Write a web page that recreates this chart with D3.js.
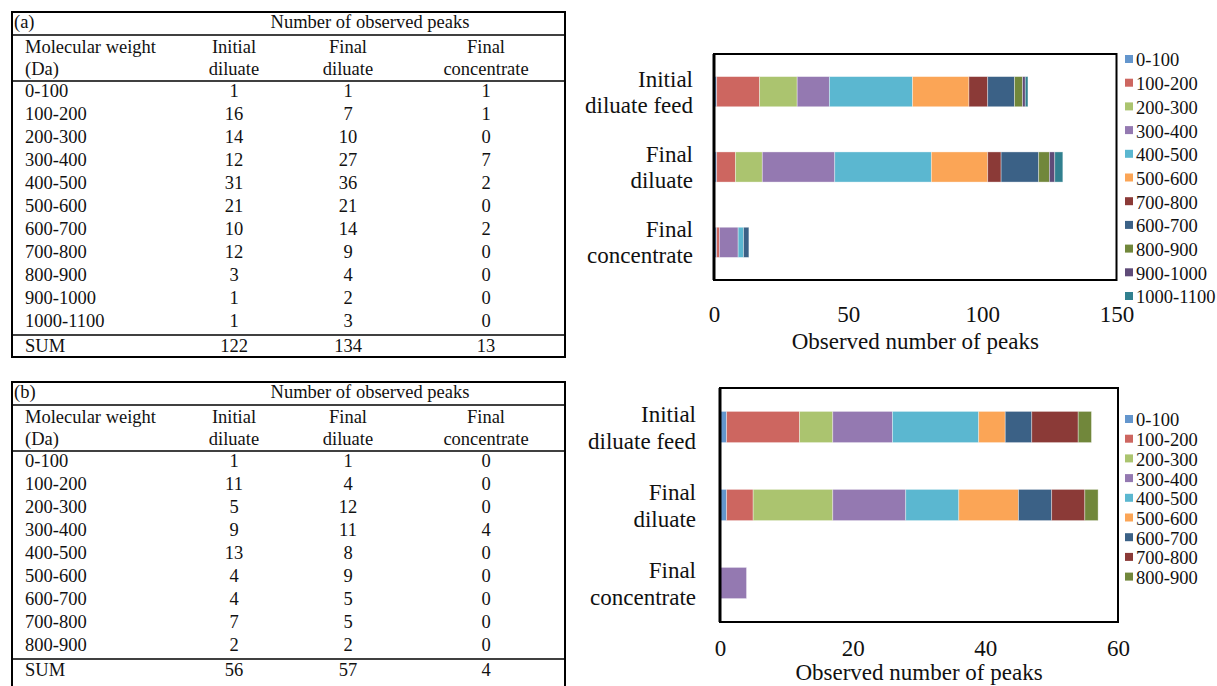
<!DOCTYPE html>
<html>
<head>
<meta charset="utf-8">
<script src="https://cdn.jsdelivr.net/npm/d3@7"></script>
<style>
  html, body { margin: 0; padding: 0; background: #fff; }
  svg { display: block; }
  text { font-family: "Liberation Serif", "Times New Roman", serif; fill: #111; }
</style>
</head>
<body>
<svg id="fig" width="1217" height="686"></svg>
<script>
// ---- Molecular-weight bins ----
const binsA = ["0-100", "100-200", "200-300", "300-400", "400-500", "500-600",
               "600-700", "700-800", "800-900", "900-1000", "1000-1100"];
const binsB = binsA.slice(0, 9);

// ---- Table (a): number of observed peaks ----
const tableAInitial = [1, 16, 14, 12, 31, 21, 10, 12, 3, 1, 1];
const tableAFinal   = [1, 7, 10, 27, 36, 21, 14, 9, 4, 2, 3];
const tableAConc    = [1, 1, 0, 7, 2, 0, 2, 0, 0, 0, 0];

// ---- Table (b): number of observed peaks ----
const tableBInitial = [1, 11, 5, 9, 13, 4, 4, 7, 2];
const tableBFinal   = [1, 4, 12, 11, 8, 9, 5, 5, 2];
const tableBConc    = [0, 0, 0, 4, 0, 0, 0, 0, 0];

// ---- Chart categories ----
const categories = ["Initial diluate feed", "Final diluate", "Final concentrate"];
const categoryLines = [["Initial", "diluate feed"], ["Final", "diluate"], ["Final", "concentrate"]];

// ---- Chart (a) series, in legend / stacking order: [initial, final diluate, final concentrate] ----
const seriesOrderA = ["0-100", "100-200", "200-300", "300-400", "400-500", "500-600",
                      "700-800", "600-700", "800-900", "900-1000", "1000-1100"];
const chartAValues = {
  "0-100":     [1, 1, 1],
  "100-200":   [16, 7, 1],
  "200-300":   [14, 10, 0],
  "300-400":   [12, 27, 7],
  "400-500":   [31, 36, 2],
  "500-600":   [21, 21, 0],
  "700-800":   [7, 5, 0],
  "600-700":   [10, 14, 2],
  "800-900":   [3, 4, 0],
  "900-1000":  [1, 2, 0],
  "1000-1100": [1, 3, 0]
};
const ticksA = [0, 50, 100, 150];

// ---- Chart (b) series ----
const seriesOrderB = binsB;
const chartBValues = {};
binsB.forEach((b, i) => { chartBValues[b] = [tableBInitial[i], tableBFinal[i], tableBConc[i]]; });
const ticksB = [0, 20, 40, 60];

// ---- Bin colours ----
const binColors = {
  "0-100": "#6496cd", "100-200": "#cd6660", "200-300": "#abc46f", "300-400": "#9479b1",
  "400-500": "#5bb7d0", "500-600": "#fba556", "600-700": "#3b6186", "700-800": "#8b3a37",
  "800-900": "#71873b", "900-1000": "#5f4b78", "1000-1100": "#31808f"
};

const svg = d3.select("#fig");

// ---------- tables ----------
function drawTable(g, cfg) {
  const { label, bins, cols, x0, x1, top, row0, step, bottom } = cfg;
  const colX = [234, 348, 486];
  const fs = 18.5;
  const lastRow = row0 + (bins.length - 1) * step;
  const sumLine = lastRow + 14;
  const sumY = sumLine + 11;

  // frame and rules
  g.append("rect").attr("x", x0).attr("y", top).attr("width", x1 - x0).attr("height", bottom - top)
    .attr("fill", "none").attr("stroke", "#000").attr("stroke-width", 2);
  [top + 23, row0 - 10, sumLine].forEach(y => {
    g.append("line").attr("x1", x0).attr("x2", x1).attr("y1", y).attr("y2", y)
      .attr("stroke", "#000").attr("stroke-width", 1.6);
  });

  const t = (x, y, s, anchor) => g.append("text").attr("x", x).attr("y", y)
    .attr("dy", "0.35em").attr("font-size", fs).attr("text-anchor", anchor || "start").text(s);

  t(x0 + 2, top + 10, label);
  t(370, top + 10, "Number of observed peaks", "middle");
  t(25, top + 35, "Molecular weight");
  t(25, top + 57, "(Da)");
  const heads = [["Initial", "diluate"], ["Final", "diluate"], ["Final", "concentrate"]];
  heads.forEach((h, i) => { t(colX[i], top + 35, h[0], "middle"); t(colX[i], top + 57, h[1], "middle"); });

  bins.forEach((b, r) => {
    const y = row0 + r * step;
    t(25, y, b);
    cols.forEach((c, i) => t(colX[i], y, c[r], "middle"));
  });
  t(25, sumY, "SUM");
  cols.forEach((c, i) => t(colX[i], sumY, d3.sum(c), "middle"));
}

drawTable(svg.append("g"), {
  label: "(a)", bins: binsA, cols: [tableAInitial, tableAFinal, tableAConc],
  x0: 12, x1: 565, top: 12, row0: 91, step: 23, bottom: 357
});
drawTable(svg.append("g"), {
  label: "(b)", bins: binsB, cols: [tableBInitial, tableBFinal, tableBConc],
  x0: 12, x1: 565, top: 382, row0: 461, step: 23, bottom: 692
});

// ---------- stacked bar charts ----------
function drawChart(g, cfg) {
  const { order, values, ticks, xLeft, xRight, yTop, yBottom, tickY, titleY,
          labelX, labelGap, legendY0, legendStep } = cfg;

  const x = d3.scaleLinear().domain([0, ticks[ticks.length - 1]]).range([xLeft, xRight]);
  const y = d3.scaleBand().domain(categories).range([yTop, yBottom]).paddingInner(0.6).paddingOuter(0.3);

  const rows = categories.map((c, i) => {
    const o = { cat: c };
    order.forEach(s => { o[s] = values[s][i]; });
    return o;
  });
  const stacked = d3.stack().keys(order)(rows);

  g.selectAll("g.series").data(stacked).join("g")
    .attr("class", "series").attr("fill", d => binColors[d.key])
    .selectAll("rect").data(d => d).join("rect")
    .attr("x", d => x(d[0])).attr("width", d => x(d[1]) - x(d[0]))
    .attr("y", d => y(d.data.cat)).attr("height", y.bandwidth())
    .attr("stroke", "rgba(255,255,255,0.45)").attr("stroke-width", 0.8);

  // plot frame
  g.append("rect").attr("x", xLeft).attr("y", yTop).attr("width", xRight - xLeft).attr("height", yBottom - yTop)
    .attr("fill", "none").attr("stroke", "#000").attr("stroke-width", 2);
  g.append("line").attr("x1", xLeft).attr("x2", xLeft).attr("y1", yTop).attr("y2", yBottom)
    .attr("stroke", "#000").attr("stroke-width", 3);

  // x-axis tick labels
  const axis = d3.axisBottom(x).tickValues(ticks).tickSize(0).tickPadding(0);
  const ag = g.append("g").attr("transform", `translate(0,${tickY})`).call(axis);
  ag.select(".domain").remove();
  ag.selectAll("text").attr("font-size", 23).attr("fill", "#111")
    .attr("font-family", "'Liberation Serif', 'Times New Roman', serif").attr("dy", "0.35em");

  g.append("text").attr("x", (xLeft + xRight) / 2).attr("y", titleY).attr("dy", "0.35em")
    .attr("text-anchor", "middle").attr("font-size", 23).text("Observed number of peaks");

  // category labels
  categories.forEach((c, i) => {
    const cy = y(c) + y.bandwidth() / 2;
    const lines = categoryLines[i];
    lines.forEach((ln, k) => {
      g.append("text").attr("x", labelX).attr("y", cy + (k - (lines.length - 1) / 2) * labelGap)
        .attr("dy", "0.35em").attr("text-anchor", "end").attr("font-size", 23).text(ln);
    });
  });

  // legend
  const lg = g.append("g");
  order.forEach((s, i) => {
    const ly = legendY0 + i * legendStep;
    lg.append("rect").attr("x", 1125).attr("y", ly - 5).attr("width", 8).attr("height", 8).attr("fill", binColors[s]);
    lg.append("text").attr("x", 1136).attr("y", ly).attr("dy", "0.35em").attr("font-size", 18.5).text(s);
  });
}

drawChart(svg.append("g"), {
  order: seriesOrderA, values: chartAValues, ticks: ticksA,
  xLeft: 714, xRight: 1116.5, yTop: 54, yBottom: 280, tickY: 314, titleY: 341,
  labelX: 693, labelGap: 26, legendY0: 60, legendStep: 23.7
});
drawChart(svg.append("g"), {
  order: seriesOrderB, values: chartBValues, ticks: ticksB,
  xLeft: 720, xRight: 1118, yTop: 388, yBottom: 622, tickY: 648, titleY: 672,
  labelX: 696, labelGap: 27, legendY0: 420, legendStep: 19.7
});
</script>
</body>
</html>
